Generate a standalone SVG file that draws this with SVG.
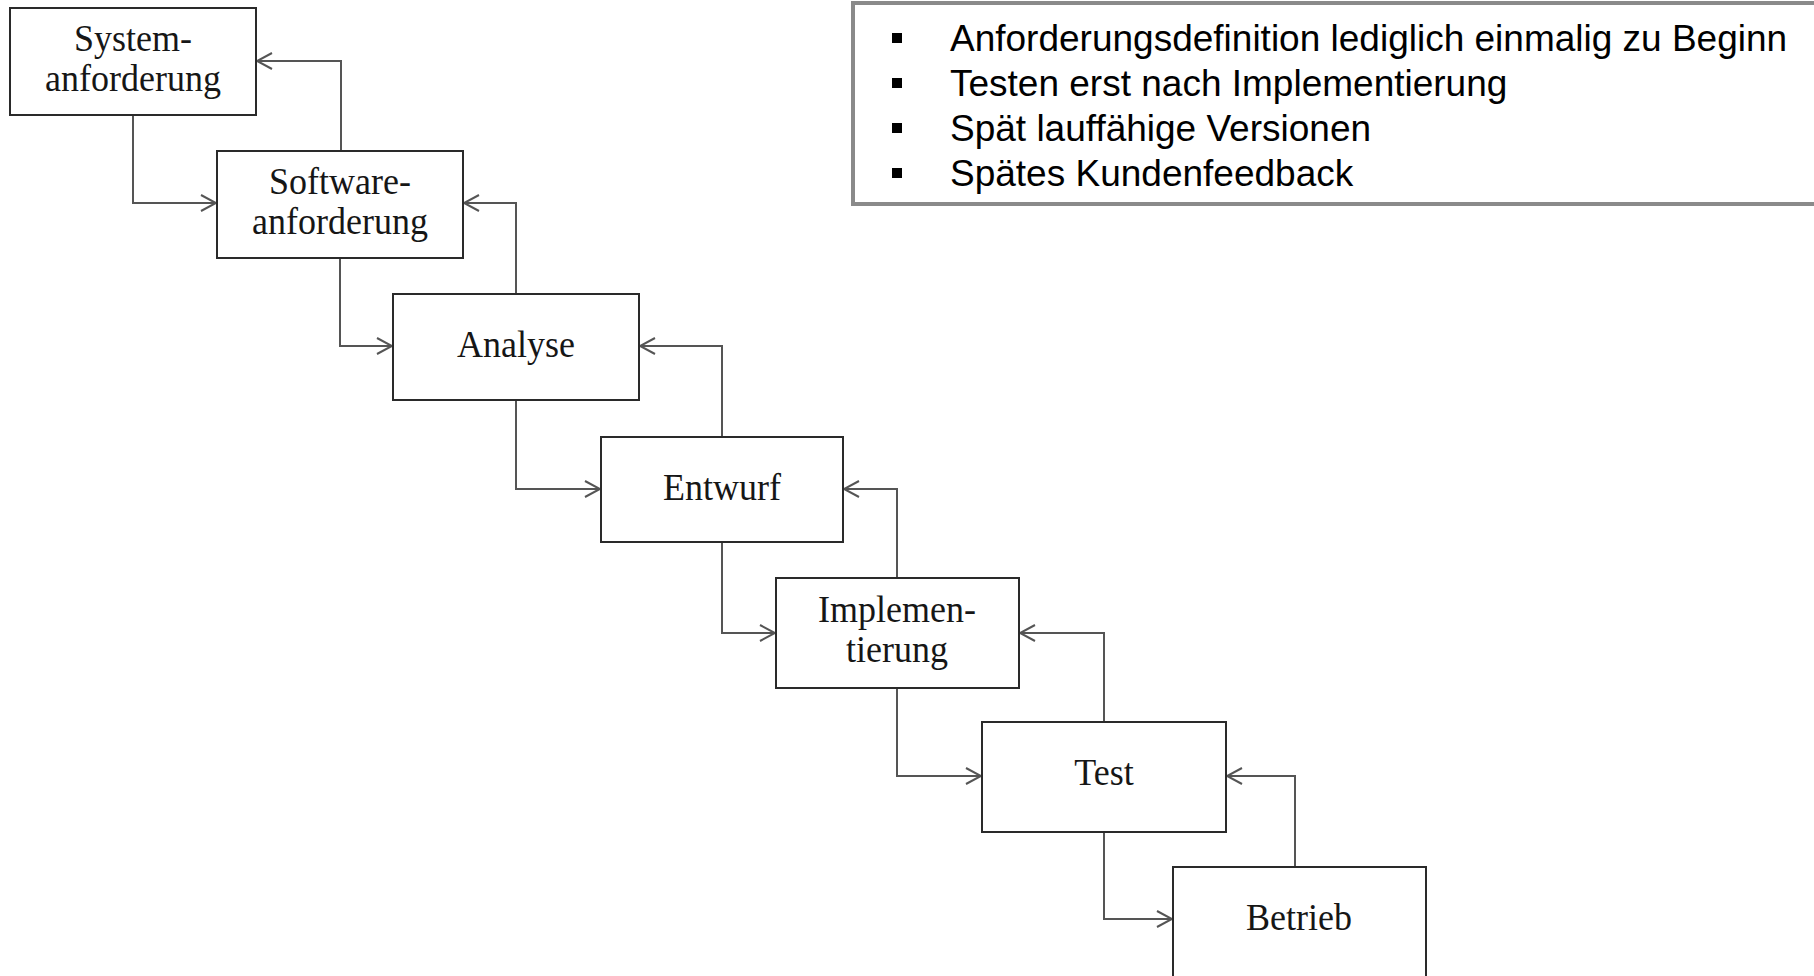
<svg xmlns="http://www.w3.org/2000/svg" width="1814" height="976" viewBox="0 0 1814 976">
  <style>
    .box { fill: #ffffff; stroke: #2a2a2a; stroke-width: 2; }
    .lbl { font-family: "Liberation Serif", "Times New Roman", serif; font-size: 36px; fill: #161616; text-anchor: middle; }
    .conn { fill: none; stroke: #555555; stroke-width: 2; }
    .note { fill: #ffffff; stroke: #8a8a8a; stroke-width: 4; }
    .item { font-family: "Liberation Sans", Arial, sans-serif; font-size: 37px; fill: #000000; }
    .bullet { fill: #000000; }
  </style>
  <defs>
    <marker id="open-arrow" markerUnits="userSpaceOnUse" viewBox="-17 -10 19 20" markerWidth="19" markerHeight="20" refX="0" refY="0" orient="auto">
      <path d="M-15,-8 L0,0 L-15,8" fill="none" stroke="#555555" stroke-width="2"/>
    </marker>
  </defs>

  <rect width="1814" height="976" fill="#ffffff"/>

  <!-- phase flow (down) and feedback (up) connectors -->
  <g id="connectors">
    <path class="conn" d="M133,115 V203 H216" marker-end="url(#open-arrow)"/>
    <path class="conn" d="M341,151 V61 H257" marker-end="url(#open-arrow)"/>
    <path class="conn" d="M340,258 V346 H392" marker-end="url(#open-arrow)"/>
    <path class="conn" d="M516,294 V203 H464" marker-end="url(#open-arrow)"/>
    <path class="conn" d="M516,400 V489 H600" marker-end="url(#open-arrow)"/>
    <path class="conn" d="M722,437 V346 H640" marker-end="url(#open-arrow)"/>
    <path class="conn" d="M722,542 V633 H775" marker-end="url(#open-arrow)"/>
    <path class="conn" d="M897,578 V489 H844" marker-end="url(#open-arrow)"/>
    <path class="conn" d="M897,688 V776 H981" marker-end="url(#open-arrow)"/>
    <path class="conn" d="M1104,722 V633 H1020" marker-end="url(#open-arrow)"/>
    <path class="conn" d="M1104,832 V919 H1172" marker-end="url(#open-arrow)"/>
    <path class="conn" d="M1295,867 V776 H1227" marker-end="url(#open-arrow)"/>
  </g>

  <!-- labels are set slightly taller than wide (scale 1 x 1.06) -->
  <g id="systemanforderung">
    <rect class="box" x="10" y="8" width="246" height="107"/>
    <text class="lbl" transform="translate(133,51) scale(1,1.06)">System-</text>
    <text class="lbl" transform="translate(133,91) scale(1,1.06)">anforderung</text>
  </g>

  <g id="softwareanforderung">
    <rect class="box" x="217" y="151" width="246" height="107"/>
    <text class="lbl" transform="translate(340,194) scale(1,1.06)">Software-</text>
    <text class="lbl" transform="translate(340,234) scale(1,1.06)">anforderung</text>
  </g>

  <g id="analyse">
    <rect class="box" x="393" y="294" width="246" height="106"/>
    <text class="lbl" transform="translate(516,357) scale(1,1.06)">Analyse</text>
  </g>

  <g id="entwurf">
    <rect class="box" x="601" y="437" width="242" height="105"/>
    <text class="lbl" transform="translate(722,500) scale(1,1.06)">Entwurf</text>
  </g>

  <g id="implementierung">
    <rect class="box" x="776" y="578" width="243" height="110"/>
    <text class="lbl" transform="translate(897,622) scale(1,1.06)">Implemen-</text>
    <text class="lbl" transform="translate(897,662) scale(1,1.06)">tierung</text>
  </g>

  <g id="test">
    <rect class="box" x="982" y="722" width="244" height="110"/>
    <text class="lbl" transform="translate(1104,785) scale(1,1.06)">Test</text>
  </g>

  <g id="betrieb">
    <rect class="box" x="1173" y="867" width="253" height="130"/>
    <text class="lbl" transform="translate(1299,930) scale(1,1.06)">Betrieb</text>
  </g>

  <!-- drawbacks list -->
  <g id="nachteile">
    <rect class="note" x="853" y="3" width="1000" height="201"/>
    <rect class="bullet" x="892" y="33" width="10" height="10"/>
    <rect class="bullet" x="892" y="78" width="10" height="10"/>
    <rect class="bullet" x="892" y="123" width="10" height="10"/>
    <rect class="bullet" x="892" y="168" width="10" height="10"/>
    <text class="item" x="950" y="51">Anforderungsdefinition lediglich einmalig zu Beginn</text>
    <text class="item" x="950" y="96">Testen erst nach Implementierung</text>
    <text class="item" x="950" y="141">Spät lauffähige Versionen</text>
    <text class="item" x="950" y="186">Spätes Kundenfeedback</text>
  </g>
</svg>
